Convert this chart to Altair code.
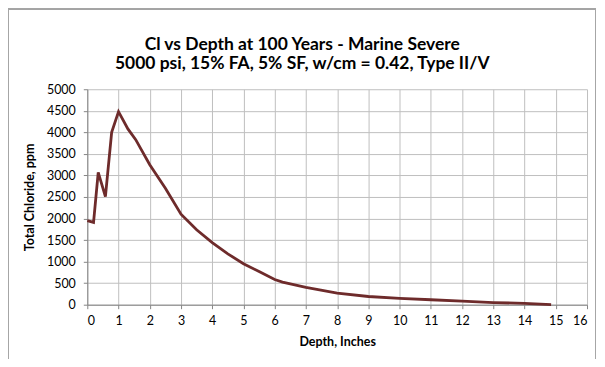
import altair as alt
import pandas as pd

depth = [0, 0.2, 0.35, 0.58, 0.78, 1.0, 1.3, 1.55, 2.0, 2.5, 3.0, 3.5, 4.0, 4.5,
         5.0, 5.5, 6.0, 6.25, 7, 8, 9, 10, 11, 12, 13, 14, 14.85]
chloride = [1950, 1910, 3070, 2510, 4000, 4480, 4080, 3830, 3250, 2700, 2100, 1740,
            1440, 1180, 950, 770, 585, 525, 400, 270, 190, 145, 115, 85, 50, 30, 0]
x_ticks = list(range(0, 17))
y_ticks = list(range(0, 5001, 500))
title_lines = ["Cl vs Depth at 100 Years - Marine Severe",
               "5000 psi, 15% FA, 5% SF, w/cm = 0.42, Type II/V"]

df = pd.DataFrame({"depth": depth, "chloride": chloride, "order": range(len(depth))})
title_df = pd.DataFrame({"t": [title_lines[0]]})
title_df2 = pd.DataFrame({"t": [title_lines[1]]})

FONT = "Lato"

line = alt.Chart(df).mark_line(color="#6E2B2B", strokeWidth=2.8, clip=False).encode(
    x=alt.X("depth:Q", scale=alt.Scale(domain=[0, 16], nice=False),
            axis=alt.Axis(values=x_ticks, title="Depth, Inches", format="d")),
    y=alt.Y("chloride:Q", scale=alt.Scale(domain=[0, 5000], nice=False),
            axis=alt.Axis(values=y_ticks, title="Total Chloride, ppm", format="d")),
    order="order:Q",
)

border = alt.Chart(df).mark_rect(fill=None, stroke="#A6A6A6", strokeWidth=1).encode(
    x=alt.value(-79), x2=alt.value(509.5), y=alt.value(-80.5), y2=alt.value(400)
)

t1 = alt.Chart(title_df).mark_text(
    font=FONT, fontSize=17.5, fontWeight="bold", color="#000000",
    align="center", baseline="middle"
).encode(text="t:N", x=alt.value(215.5), y=alt.value(-44.5))

t2 = alt.Chart(title_df2).mark_text(
    font=FONT, fontSize=17.5, fontWeight="bold", color="#000000",
    align="center", baseline="middle"
).encode(text="t:N", x=alt.value(215.5), y=alt.value(-25.5))

chart = alt.layer(border, line, t1, t2).properties(
    width=501,
    height=216,
    background="white",
    autosize=alt.AutoSizeParams(type="none"),
    padding={"left": 79.5, "top": 81, "right": 10, "bottom": 54},
).configure_view(stroke=None).configure_axis(
    labelFont=FONT, labelFontSize=12.5, labelColor="#000000",
    titleFont=FONT, titleFontSize=12.5, titleFontWeight="bold", titleColor="#000000",
    gridColor="#BFBFBF", gridWidth=1, domainColor="#868686", tickColor="#868686",
    tickSize=4,
).configure_axisX(labelPadding=6, titlePadding=8).configure_axisY(
    labelPadding=8, titlePadding=10
)

chart.save("out.html", embed_options={"renderer": "svg", "actions": False})
